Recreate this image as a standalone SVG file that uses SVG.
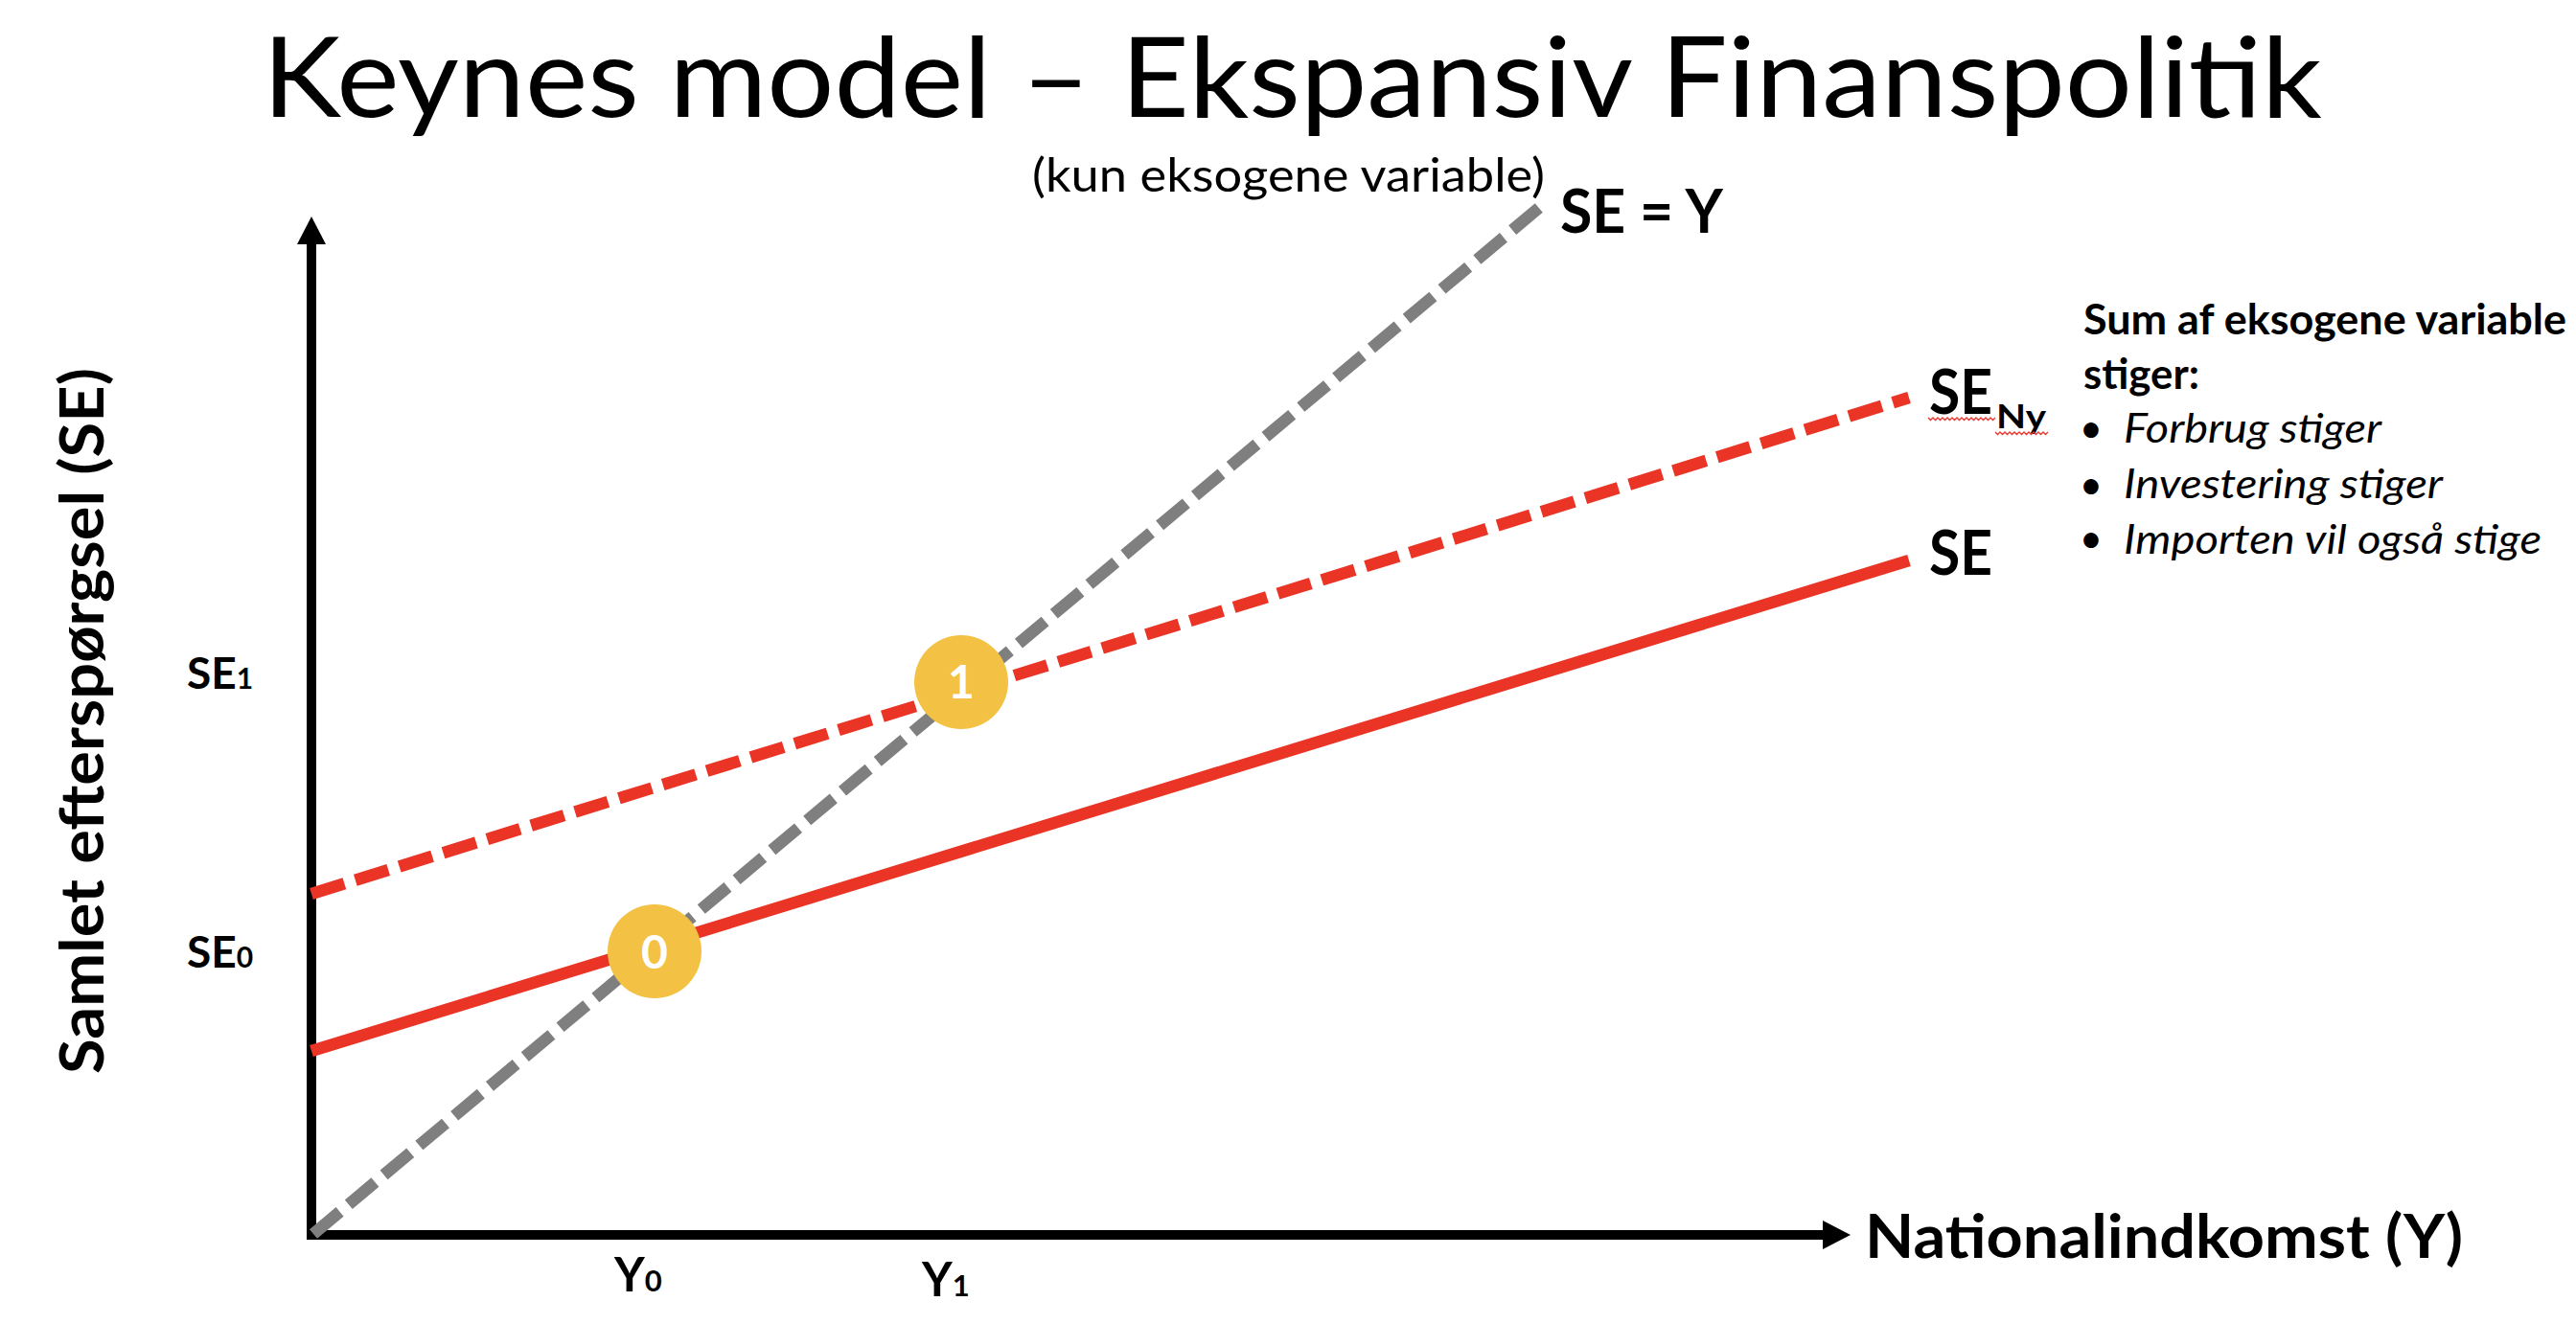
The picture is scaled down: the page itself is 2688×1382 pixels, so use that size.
<svg xmlns="http://www.w3.org/2000/svg" width="2688" height="1382" viewBox="0 0 2688 1382">
  <style>
    text { font-family: Lato, "Liberation Sans", sans-serif; fill: #000; }
    .b { font-weight: 700; }
    .it { font-style: italic; font-weight: 400; }
    .axis { stroke: #000; stroke-width: 10; fill: none; }
    .red { stroke: #EA3426; stroke-width: 12.5; fill: none; }
    .dash { stroke-dasharray: 36 12; }
    .gray { stroke: #7F7F7F; stroke-width: 12.5; fill: none; stroke-dasharray: 36 12; }
    .pt { fill: #F3C244; }
    .ptl { fill: #fff; font-weight: 700; font-size: 48px; text-anchor: middle; }
    .squig { stroke: #E8382F; stroke-width: 1.3; fill: none; }
    .bul { font-size: 42px; text-anchor: middle; }
  </style>
  <defs>
    <marker id="ah" markerUnits="userSpaceOnUse" markerWidth="30" markerHeight="30" refX="0" refY="15" orient="auto">
      <path d="M0,0 L29,15 L0,30 Z" fill="#000"/>
    </marker>
  </defs>
  <rect width="2688" height="1382" fill="#fff"/>

  <!-- Title -->
  <g id="title">
    <text x="274" y="122" font-size="117" font-weight="400" textLength="2149" lengthAdjust="spacingAndGlyphs">Keynes model – Ekspansiv Finanspolitik</text>
    <text x="1077" y="200" font-size="49" textLength="535" lengthAdjust="spacingAndGlyphs">(kun eksogene variable)</text>
  </g>

  <!-- Axes -->
  <g id="axes">
    <line class="axis" x1="325" y1="1294" x2="325" y2="255" marker-end="url(#ah)"/>
    <line class="axis" x1="320" y1="1289" x2="1902" y2="1289" marker-end="url(#ah)"/>
    <text class="b" x="1946" y="1313" font-size="63" textLength="624" lengthAdjust="spacingAndGlyphs">Nationalindkomst (Y)</text>
    <text class="b" transform="translate(108,1121) rotate(-90)" x="0" y="0" font-size="64" textLength="737" lengthAdjust="spacingAndGlyphs">Samlet efterspørgsel (SE)</text>
    <text class="b" x="195" y="719" font-size="46">SE<tspan font-size="30">1</tspan></text>
    <text class="b" x="195" y="1010" font-size="46">SE<tspan font-size="30">0</tspan></text>
    <text class="b" x="641" y="1348" font-size="49">Y<tspan font-size="31">0</tspan></text>
    <text class="b" x="962" y="1353" font-size="49">Y<tspan font-size="31">1</tspan></text>
  </g>

  <!-- Curves -->
  <g id="connectors">
    <line id="se-y" class="gray" x1="327" y1="1288" x2="1607" y2="216"/>
    <line id="se" class="red" x1="325" y1="1097" x2="1992" y2="585"/>
    <line id="se-ny" class="red dash" x1="325" y1="933" x2="1992" y2="415"/>
  </g>

  <!-- Curve labels -->
  <g id="label-se-y">
    <text class="b" x="1628" y="243" font-size="63" textLength="170" lengthAdjust="spacingAndGlyphs">SE = Y</text>
  </g>
  <g id="label-se-ny">
    <text class="b" x="2013" y="432" font-size="65" textLength="66" lengthAdjust="spacingAndGlyphs">SE</text>
    <text class="b" x="2083" y="447" font-size="35" textLength="52" lengthAdjust="spacingAndGlyphs">Ny</text>
    <path class="squig" d="M2012,436 l2.5,2.5 l2.5,-2.5 l2.5,2.5 l2.5,-2.5 l2.5,2.5 l2.5,-2.5 l2.5,2.5 l2.5,-2.5 l2.5,2.5 l2.5,-2.5 l2.5,2.5 l2.5,-2.5 l2.5,2.5 l2.5,-2.5 l2.5,2.5 l2.5,-2.5 l2.5,2.5 l2.5,-2.5 l2.5,2.5 l2.5,-2.5 l2.5,2.5 l2.5,-2.5 l2.5,2.5 l2.5,-2.5 l2.5,2.5 l2.5,-2.5 l2.5,2.5 l2.5,-2.5"/>
    <path class="squig" d="M2082,451 l2.5,2.5 l2.5,-2.5 l2.5,2.5 l2.5,-2.5 l2.5,2.5 l2.5,-2.5 l2.5,2.5 l2.5,-2.5 l2.5,2.5 l2.5,-2.5 l2.5,2.5 l2.5,-2.5 l2.5,2.5 l2.5,-2.5 l2.5,2.5 l2.5,-2.5 l2.5,2.5 l2.5,-2.5 l2.5,2.5 l2.5,-2.5 l2.5,2.5 l2.5,-2.5"/>
  </g>
  <g id="label-se">
    <text class="b" x="2013" y="600" font-size="65" textLength="66" lengthAdjust="spacingAndGlyphs">SE</text>
  </g>

  <!-- Equilibrium points -->
  <g id="point-0">
    <circle class="pt" cx="683" cy="993" r="49"/>
    <text class="ptl" x="683" y="1011">0</text>
  </g>
  <g id="point-1">
    <circle class="pt" cx="1003" cy="712" r="49"/>
    <text class="ptl" x="1003" y="729">1</text>
  </g>

  <!-- Side note -->
  <g id="note">
    <text class="b" x="2174" y="349" font-size="43" textLength="504" lengthAdjust="spacingAndGlyphs">Sum af eksogene variable</text>
    <text class="b" x="2174" y="406" font-size="43" textLength="121" lengthAdjust="spacingAndGlyphs">stiger:</text>
    <text class="bul" x="2182" y="462">•</text>
    <text class="bul" x="2182" y="521">•</text>
    <text class="bul" x="2182" y="577">•</text>
    <text class="it" x="2216" y="462" font-size="43" textLength="269" lengthAdjust="spacingAndGlyphs">Forbrug stiger</text>
    <text class="it" x="2216" y="520" font-size="43" textLength="333" lengthAdjust="spacingAndGlyphs">Investering stiger</text>
    <text class="it" x="2216" y="578" font-size="43" textLength="436" lengthAdjust="spacingAndGlyphs">Importen vil også stige</text>
  </g>
</svg>
